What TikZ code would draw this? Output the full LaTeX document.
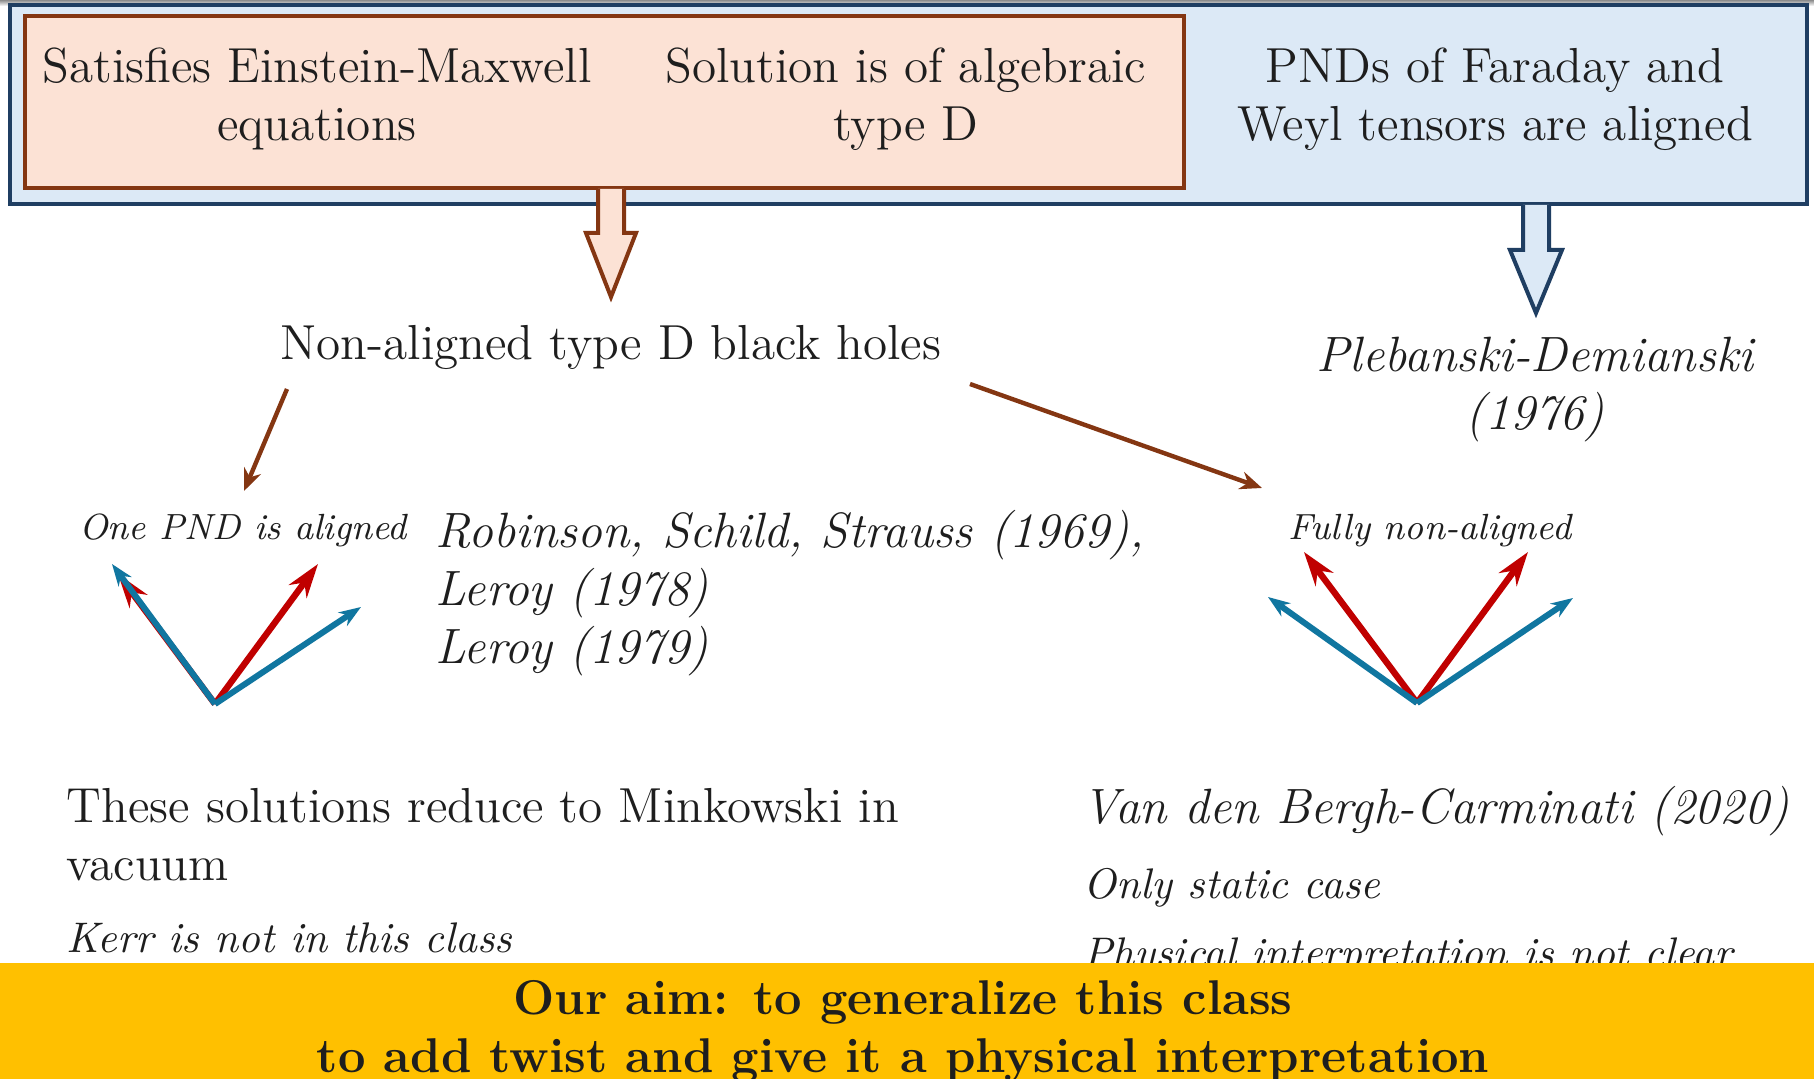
\documentclass[tikz,border=0pt]{standalone}
\usetikzlibrary{arrows.meta}
\definecolor{boxblue}{RGB}{220,233,246}
\definecolor{boxblueline}{RGB}{31,62,98}
\definecolor{boxorange}{RGB}{252,226,213}
\definecolor{brownline}{RGB}{132,54,18}
\definecolor{vecblue}{RGB}{16,118,160}
\definecolor{vecred}{RGB}{192,0,0}
\definecolor{banner}{RGB}{255,192,0}
\definecolor{ink}{RGB}{30,30,30}
\begin{document}
\begin{tikzpicture}[x=0.25pt,y=-0.25pt,
  plain/.style={inner sep=0pt, text=ink},
  main/.style={plain, font=\fontsize{12.3}{14.5}\selectfont},
  ital/.style={plain, font=\fontsize{12.4}{14.5}\selectfont\itshape},
  smallit/.style={plain, font=\fontsize{10.7}{13.4}\selectfont\itshape},
  tinyit/.style={plain, font=\fontsize{9.1}{11}\selectfont\itshape},
  outerbox/.style={draw=boxblueline, fill=boxblue, line width=0.8pt, inner sep=0pt},
  innerbox/.style={draw=brownline, fill=boxorange, line width=1pt, inner sep=0pt},
  blockarrow/.style={line width=1pt, line join=miter},
  link/.style={draw=brownline, line width=1.1pt, -{Stealth[length=5.5pt,width=4.5pt]}},
  redvec/.style={draw=vecred, line width=1.6pt, -{Stealth[length=8.5pt,width=5.5pt]}},
  bluevec/.style={draw=vecblue, line width=1.5pt, -{Stealth[length=5.5pt,width=4pt]}},
]
\useasboundingbox (0,0) rectangle (1814,1079);
\fill[white] (0,0) rectangle (1814,1079);
\shade[top color=black!45, bottom color=white] (0,0) rectangle (1814,6);

% condition boxes
\node[outerbox, minimum width=449.25pt, minimum height=49.75pt] (cond) at (908.5,104.5) {};
\node[innerbox, minimum width=289.75pt, minimum height=43pt] (pair) at (604.5,102) {};

% hollow block arrows below the boxes
\filldraw[blockarrow, draw=brownline, fill=boxorange]
  (598,189) -- (598,233) -- (586,233) -- (611,297) -- (636,233) -- (624,233) -- (624,189);
\filldraw[blockarrow, draw=boxblueline, fill=boxblue]
  (1523,205) -- (1523,250) -- (1510,250) -- (1536,313) -- (1562,250) -- (1549,250) -- (1549,205);

% box texts
\node[main, align=center] (em) at (317,99) {Satisfies Einstein-Maxwell\\equations};
\node[main, align=center] (typed) at (906,99) {Solution is of algebraic\\type D};
\node[main, align=center] (aligned) at (1495,99) {PNDs of Faraday and\\Weyl tensors are aligned};

\node[main, anchor=base] (nonal) at (611,360) {Non-aligned type D black holes};
\node[ital, align=center] (pd) at (1535,390) {Plebanski-Demianski\\(1976)};

\node[tinyit, anchor=base] (one) at (243,540) {One PND is aligned};
\node[tinyit, anchor=base] (fully) at (1430,540) {Fully non-aligned};
\node[ital, align=left, anchor=west] (refs) at (435,593)
  {Robinson, Schild, Strauss (1969),\\Leroy (1978)\\Leroy (1979)};

% links from the class to its two cases
\coordinate (l1) at (287,389);
\coordinate (l2) at (244,491);
\coordinate (r1) at (970,384);
\coordinate (r2) at (1262,488);
\draw[link] (l1) -- (l2);
\draw[link] (r1) -- (r2);

% principal null directions: one aligned pair
\coordinate (o1) at (215,704);
\coordinate (o1redL) at (118,574);
\coordinate (o1redR) at (318,564);
\coordinate (o1bluL) at (112,564);
\coordinate (o1bluR) at (361,607);
\draw[redvec] (o1) -- (o1redL);
\draw[redvec] (o1) -- (o1redR);
\draw[bluevec] (o1) -- (o1bluL);
\draw[bluevec] (o1) -- (o1bluR);

% principal null directions: fully non-aligned
\coordinate (o2) at (1417,703);
\coordinate (o2redL) at (1304,552);
\coordinate (o2redR) at (1528,552);
\coordinate (o2bluL) at (1268,597);
\coordinate (o2bluR) at (1573,598);
\draw[redvec] (o2) -- (o2redL);
\draw[redvec] (o2) -- (o2redR);
\draw[bluevec] (o2) -- (o2bluL);
\draw[bluevec] (o2) -- (o2bluR);

% remarks
\node[main, align=left, anchor=west] (mink) at (66,835)
  {These solutions reduce to Minkowski in\\vacuum};
\node[smallit, anchor=base west] (kerr) at (66,953) {Kerr is not in this class};
\node[ital, anchor=base west] (vdb) at (1082,824) {Van den Bergh-Carminati (2020)};
\node[smallit, anchor=base west] (static) at (1083,899) {Only static case};
\node[smallit, anchor=base west] (phys) at (1083,968) {Physical interpretation is not clear};

% goal banner
\fill[banner] (0,963) rectangle (1814,1079);
\node[plain, font=\fontsize{12.2}{14.5}\selectfont\bfseries, align=center] (goal) at (903,1031)
  {Our aim: to generalize this class\\to add twist and give it a physical interpretation};
\end{tikzpicture}
\end{document}
